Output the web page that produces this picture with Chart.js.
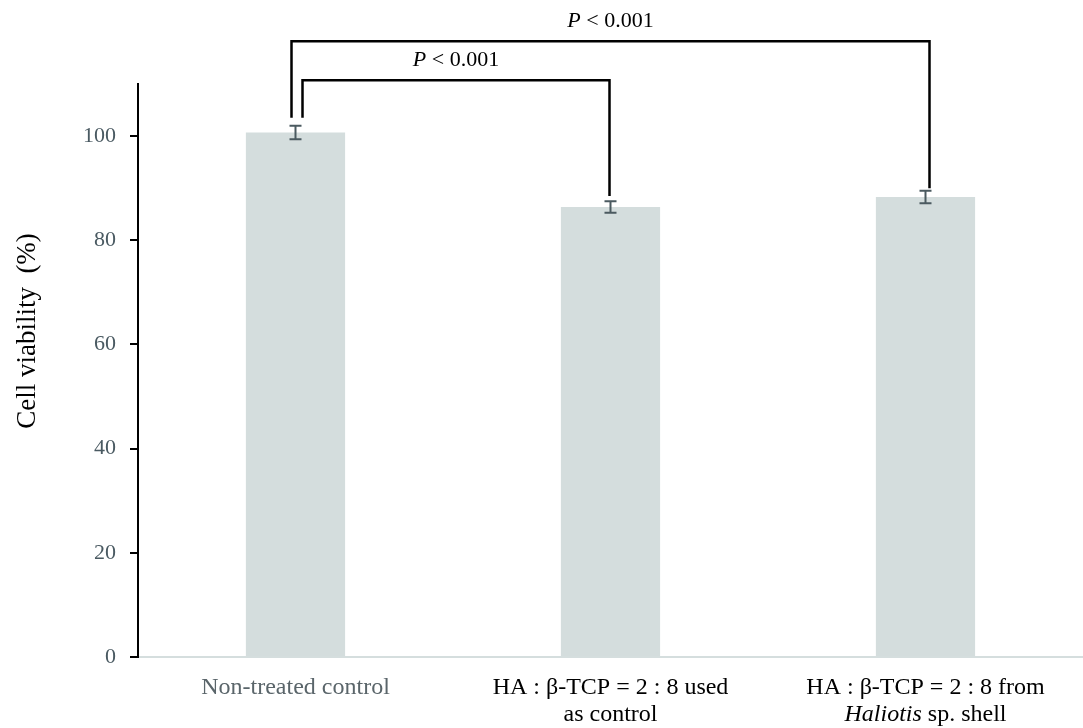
<!DOCTYPE html>
<html lang="en">
<head>
    <meta charset="UTF-8">
    <title>Cell viability</title>
    <script src="https://cdn.jsdelivr.net/npm/chart.js@4.4.1/dist/chart.umd.min.js"></script>
    <style>
        body {
            margin: 0;
            background-color: white;
        }
        .chart {
            width: 1083px;
            height: 728px;
        }
    </style>
</head>
<body>
<div class="chart">
    <canvas id="viabilityChart"></canvas>
</div>
<script>
    // data
    const categories = [
        ['Non-treated control'],
        ['HA : \u03b2-TCP = 2 : 8 used', 'as control'],
        ['HA : \u03b2-TCP = 2 : 8 from', 'Haliotis sp. shell']
    ];
    const viability = [100.7, 86.4, 88.3];
    const errors = [1.3, 1.1, 1.2];
    const yTicks = [0, 20, 40, 60, 80, 100];
    const yTitle = 'Cell viability  (%)';

    // significance brackets: from bar, to bar, top level, label
    const brackets = [
        { from: 0, to: 2, fromY: 103.5, toY: 90.0, top: 118.2, text: '< 0.001' },
        { from: 0, to: 1, fromY: 103.5, toY: 88.5, top: 110.7, text: '< 0.001' }
    ];

    const serif = '"Liberation Serif", "DejaVu Serif", serif';

    // error bars, brackets, y title and the x labels (one of them has italic text)
    const extras = {
        id: 'extras',
        afterDatasetsDraw(chart) {
            const ctx = chart.ctx;
            const x = chart.scales.x;
            const y = chart.scales.y;
            ctx.save();

            // error bars
            ctx.strokeStyle = '#4b5a60';
            ctx.lineWidth = 2;
            viability.forEach((v, i) => {
                const cx = x.getPixelForValue(i);
                const top = y.getPixelForValue(v + errors[i]);
                const bot = y.getPixelForValue(v - errors[i]);
                ctx.beginPath();
                ctx.moveTo(cx, top); ctx.lineTo(cx, bot);
                ctx.moveTo(cx - 6, top); ctx.lineTo(cx + 6, top);
                ctx.moveTo(cx - 6, bot); ctx.lineTo(cx + 6, bot);
                ctx.stroke();
            });

            // brackets
            ctx.strokeStyle = '#000';
            ctx.lineWidth = 2.5;
            brackets.forEach((b, k) => {
                const x1 = x.getPixelForValue(b.from) + (k === 0 ? -4 : 7);
                const x2 = x.getPixelForValue(b.to) + (k === 0 ? 4 : -1);
                const yt = y.getPixelForValue(b.top);
                ctx.beginPath();
                ctx.moveTo(x1, y.getPixelForValue(b.fromY));
                ctx.lineTo(x1, yt);
                ctx.lineTo(x2, yt);
                ctx.lineTo(x2, y.getPixelForValue(b.toY));
                ctx.stroke();

                ctx.fillStyle = '#000';
                ctx.textBaseline = 'alphabetic';
                ctx.font = 'italic 22px ' + serif;
                const pW = ctx.measureText('P').width;
                ctx.font = '22px ' + serif;
                const rest = ' ' + b.text;
                const rW = ctx.measureText(rest).width;
                const start = (x1 + x2) / 2 - (pW + rW) / 2;
                ctx.font = 'italic 22px ' + serif;
                ctx.textAlign = 'left';
                ctx.fillText('P', start, yt - 14);
                ctx.font = '22px ' + serif;
                ctx.fillText(rest, start + pW, yt - 14);
            });

            // x labels
            ctx.textAlign = 'left';
            ctx.textBaseline = 'alphabetic';
            categories.forEach((lines, i) => {
                const cx = x.getPixelForValue(i);
                lines.forEach((line, j) => {
                    const yy = 694 + j * 27;
                    ctx.fillStyle = i === 0 ? '#5a656a' : '#000';
                    if (line.startsWith('Haliotis')) {
                        ctx.font = 'italic 24px ' + serif;
                        const a = 'Haliotis';
                        const aw = ctx.measureText(a).width;
                        ctx.font = '24px ' + serif;
                        const b = ' sp. shell';
                        const bw = ctx.measureText(b).width;
                        const s = cx - (aw + bw) / 2;
                        ctx.font = 'italic 24px ' + serif;
                        ctx.fillText(a, s, yy);
                        ctx.font = '24px ' + serif;
                        ctx.fillText(b, s + aw, yy);
                    } else {
                        ctx.font = '24px ' + serif;
                        const w = ctx.measureText(line).width;
                        ctx.fillText(line, cx - w / 2, yy);
                    }
                });
            });

            // y title
            ctx.translate(28, 331);
            ctx.rotate(-Math.PI / 2);
            ctx.font = '27px ' + serif;
            ctx.fillStyle = '#000';
            ctx.textAlign = 'center';
            ctx.textBaseline = 'middle';
            ctx.fillText(yTitle, 0, 0);
            ctx.restore();
        }
    };

    new Chart(document.getElementById('viabilityChart').getContext('2d'), {
        type: 'bar',
        data: {
            labels: categories,
            datasets: [{
                data: viability,
                backgroundColor: '#d4dddd',
                barPercentage: 0.63,
                categoryPercentage: 0.5
            }]
        },
        options: {
            responsive: true,
            maintainAspectRatio: false,
            animation: false,
            layout: {
                padding: { top: 84, right: 0, left: 0, bottom: 0 }
            },
            plugins: {
                legend: { display: false },
                tooltip: { enabled: false }
            },
            scales: {
                x: {
                    grid: { display: false },
                    border: { color: '#d5dede', width: 2 },
                    ticks: { display: false },
                    afterFit: s => { s.height = 71; }
                },
                y: {
                    min: 0,
                    max: 110,
                    afterBuildTicks: s => { s.ticks = yTicks.map(v => ({ value: v })); },
                    grid: {
                        drawOnChartArea: false,
                        drawTicks: true,
                        tickLength: 8,
                        color: '#000',
                        lineWidth: 2
                    },
                    border: { color: '#000', width: 2 },
                    ticks: {
                        color: '#4a5a62',
                        font: { family: serif, size: 22 },
                        padding: 14
                    },
                    afterFit: s => { s.width = 138; }
                }
            }
        },
        plugins: [extras]
    });
</script>
</body>
</html>
